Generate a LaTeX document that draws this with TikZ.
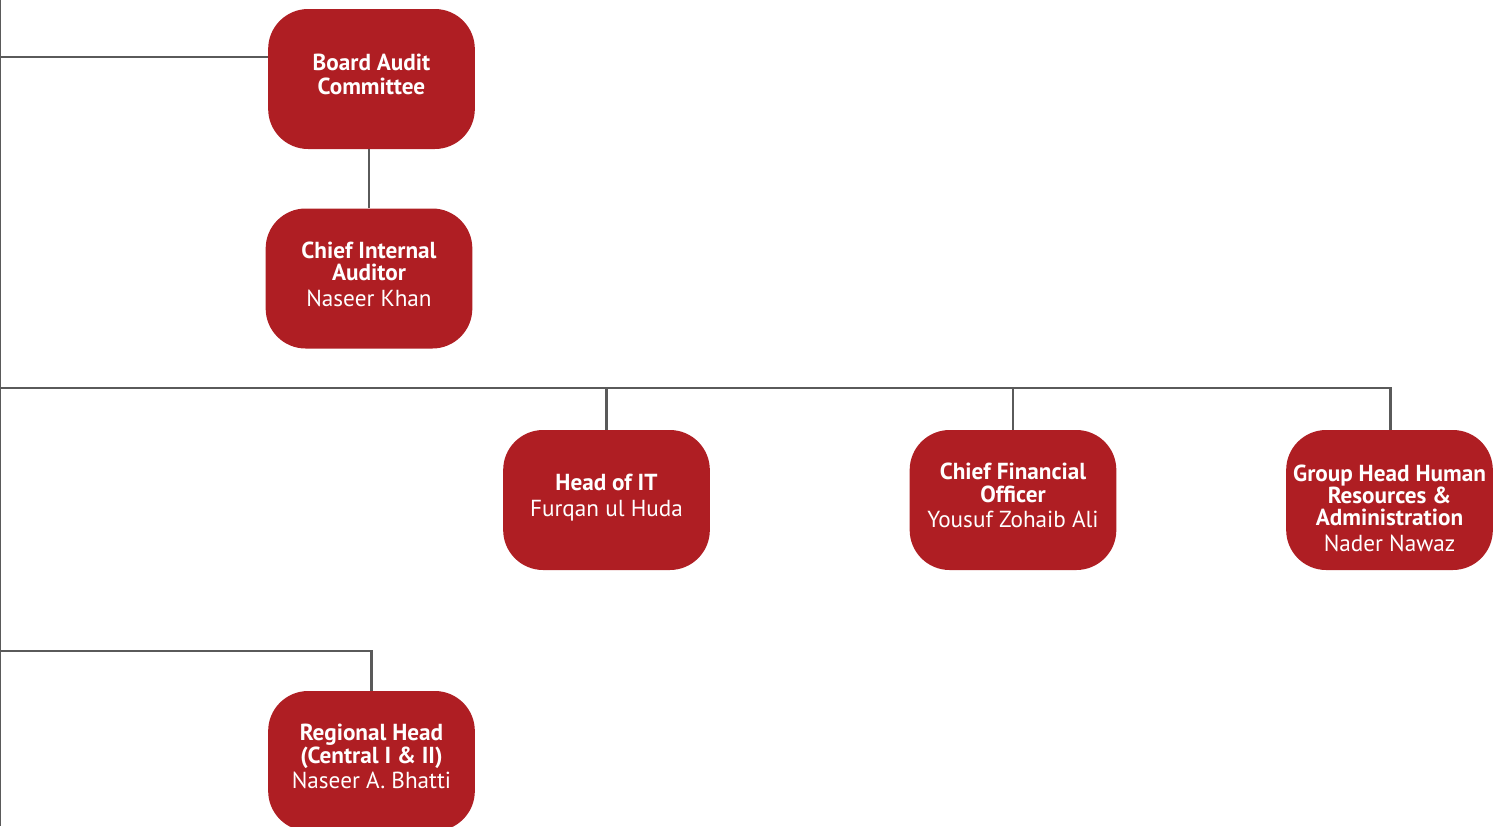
\documentclass[tikz,border=0pt]{standalone}
\usepackage{fontspec}
\setmainfont{PT Sans}
\usetikzlibrary{calc}
\definecolor{boxred}{HTML}{AF1E23}
\definecolor{linegray}{HTML}{5A5A5A}
% short empty last row, lifts the text a little above the middle
\newcommand{\liftrow}{\\[-10pt]}
% empty first row, pushes the text below the middle
\newcommand{\droprow}{\mbox{}\\[8pt]}

\begin{document}
\begin{tikzpicture}[x=0.75pt, y=-0.75pt,
  post/.style={fill=boxred, text=white, rounded corners=30pt, minimum width=155pt, minimum height=105pt, align=center, inner sep=2pt, font=\fontsize{17.4}{16.8}\selectfont},
  link/.style={linegray, line width=2.2pt}]
\clip (0,0) rectangle (1509,826);
\useasboundingbox (0,0) rectangle (1509,826);

\node[post] (audit) at (371.5,79) {\textbf{Board Audit}\\[1.5pt]\textbf{Committee}\liftrow};
\node[post] (cia) at (369,278.5) {\textbf{Chief Internal}\\\textbf{Auditor}\\[2.5pt]Naseer Khan\liftrow};
\node[post] (it) at (606.5,500) {\textbf{Head of IT}\\[2.5pt]Furqan ul Huda\liftrow};
\node[post] (cfo) at (1013,500) {\textbf{Chief Financial}\\\textbf{Officer}\\[2.5pt]Yousuf Zohaib Ali\liftrow};
\node[post] (hr) at (1389.5,500) {\droprow\textbf{Group Head Human}\\\textbf{Resources \&}\\\textbf{Administration}\\[2.5pt]Nader Nawaz};
\node[post] (region) at (371.5,761) {\textbf{Regional Head}\\\textbf{(Central I \& II)}\\[2.5pt]Naseer A. Bhatti\liftrow};

\coordinate (top) at (0,0);
\coordinate (bottom) at (0,826);
\draw[link] (top) -- (bottom);
\draw[link] (0,57) -- (audit.west |- 0,57);
\draw[link] (cia.north) -- (cia.north |- audit.south);
\draw[link] (0,388) -| ([xshift=1pt]hr.north);
\draw[link] (it.north) -- (it.north |- 0,388);
\draw[link] (cfo.north) -- (cfo.north |- 0,388);
\draw[link] (0,651) -| (region.north);
\end{tikzpicture}
\end{document}
